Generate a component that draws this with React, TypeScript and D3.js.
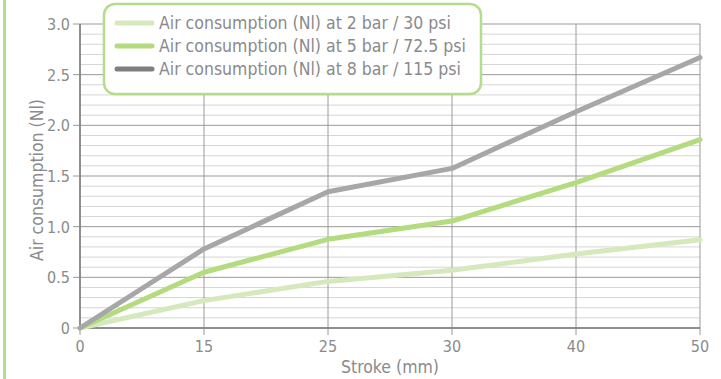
import React from "react";
import * as d3 from "d3";

const categories = ["0", "15", "25", "30", "40", "50"];
const series2bar = [0, 0.27, 0.46, 0.57, 0.73, 0.87];
const series5bar = [0, 0.55, 0.875, 1.055, 1.435, 1.86];
const series8bar = [0, 0.78, 1.345, 1.575, 2.135, 2.67];
const seriesNames = [
  "Air consumption (Nl) at 2 bar / 30 psi",
  "Air consumption (Nl) at 5 bar / 72.5 psi",
  "Air consumption (Nl) at 8 bar / 115 psi",
];
const yTicks = [0, 0.5, 1.0, 1.5, 2.0, 2.5, 3.0];
const yTickLabels = ["0", "0.5", "1.0", "1.5", "2.0", "2.5", "3.0"];

const W = 721, H = 379;
const left = 80, right = 700, top = 24, bottom = 328;
const font = "'DejaVu Sans Condensed', 'DejaVu Sans', sans-serif";
const textColor = "#8a8a8c";

export default function App() {
  const x = d3.scalePoint<string>().domain(categories).range([left, right]);
  const y = d3.scaleLinear().domain([0, 3]).range([bottom, top]);
  const line = d3
    .line<number>()
    .x((_, i) => x(categories[i]) as number)
    .y((d) => y(d))
    .curve(d3.curveLinear);

  const minor = d3.range(0, 31).map((v) => v / 10);
  const series = [
    { data: series2bar, color: "#d5e9bd", legend: "#d5e9bd" },
    { data: series5bar, color: "#b4db7e", legend: "#b4db7e" },
    { data: series8bar, color: "#a7a7a9", legend: "#7f7f81" },
  ];

  return (
    <svg width={W} height={H} style={{ position: "absolute", left: 0, top: 0, background: "#fff" }}>
      <rect x={3} y={0} width={3} height={H} fill="#b5dc8a" />
      {minor.map((v, i) =>
        i % 5 === 0 ? null : (
          <line key={"m" + i} x1={left} x2={right} y1={y(v)} y2={y(v)} stroke="#d6d6d6" strokeWidth={1} />
        )
      )}
      {yTicks.map((v, i) => (
        <line key={"M" + i} x1={left - 7} x2={right} y1={y(v)} y2={y(v)} stroke="#9a9a9c" strokeWidth={1} />
      ))}
      {categories.map((c) => (
        <line key={"v" + c} x1={x(c)} x2={x(c)} y1={top} y2={bottom + 7} stroke="#9a9a9c" strokeWidth={1} />
      ))}
      <line x1={left} x2={left} y1={top} y2={bottom} stroke="#7a7a7c" strokeWidth={1.5} />
      <line x1={left} x2={right} y1={bottom} y2={bottom} stroke="#7a7a7c" strokeWidth={1.5} />
      {yTicks.map((v, i) => (
        <text key={"yt" + i} x={left - 10} y={y(v) + 6} textAnchor="end" fontFamily={font} fontSize={16} fill={textColor}>
          {yTickLabels[i]}
        </text>
      ))}
      {categories.map((c) => (
        <text key={"xt" + c} x={x(c)} y={bottom + 24} textAnchor="middle" fontFamily={font} fontSize={16} fill={textColor}>
          {c}
        </text>
      ))}
      <text x={390} y={373} textAnchor="middle" fontFamily={font} fontSize={17.5} fill={textColor}>
        Stroke (mm)
      </text>
      <text
        transform={`translate(43,${(top + bottom) / 2 + 4}) rotate(-90)`}
        textAnchor="middle"
        fontFamily={font}
        fontSize={17.5}
        fill={textColor}
      >
        Air consumption (Nl)
      </text>
      {series.map((s, i) => (
        <path key={"s" + i} d={line(s.data) || ""} fill="none" stroke={s.color} strokeWidth={5} strokeLinejoin="round" strokeLinecap="round" />
      ))}
      <rect x={104} y={4} width={377} height={90} rx={11} ry={11} fill="#fff" stroke="#b5dc8a" strokeWidth={2.5} />
      {series.map((s, i) => (
        <g key={"l" + i}>
          <line x1={117} x2={152} y1={23 + i * 23} y2={23 + i * 23} stroke={s.legend} strokeWidth={5} strokeLinecap="round" />
          <text x={159} y={29 + i * 23} fontFamily={font} fontSize={17.5} fill={textColor}>
            {seriesNames[i]}
          </text>
        </g>
      ))}
    </svg>
  );
}
